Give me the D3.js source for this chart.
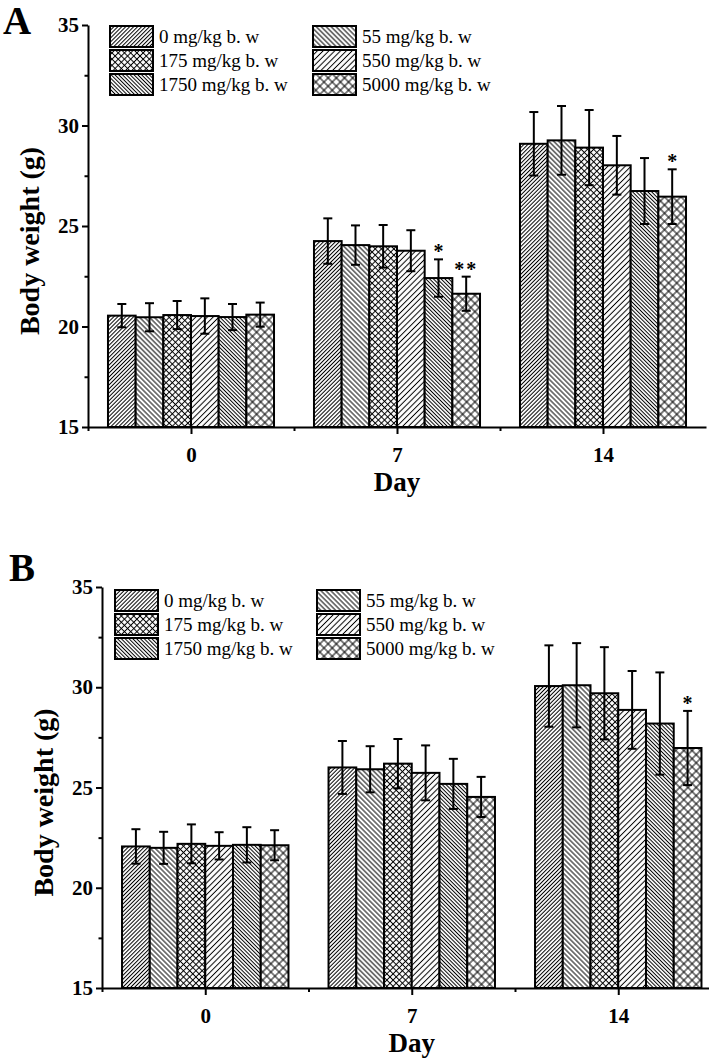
<!DOCTYPE html>
<html>
<head>
<meta charset="utf-8">
<script src="https://cdn.jsdelivr.net/npm/d3@7"></script>
<style>
  body { margin: 0; background: #fff; }
  text { font-family: "Liberation Serif", "Times New Roman", serif; fill: #000; }
</style>
</head>
<body>
<script>
// ---- data ----
const days = ["0", "7", "14"];
const doses = ["0 mg/kg b. w", "55 mg/kg b. w", "175 mg/kg b. w",
               "550 mg/kg b. w", "1750 mg/kg b. w", "5000 mg/kg b. w"];
const yTicks = [15, 20, 25, 30, 35];

// panel A, mean body weight per dose (g)
const meanA_day0 = [20.54, 20.46, 20.57, 20.52, 20.47, 20.59];
const meanA_day7 = [24.25, 24.05, 23.99, 23.77, 22.41, 21.63];
const meanA_day14 = [29.09, 29.26, 28.90, 28.02, 26.74, 26.46];
const errA_day0 = [0.58, 0.70, 0.70, 0.88, 0.65, 0.60];
const errA_day7 = [1.13, 0.98, 1.06, 1.02, 0.93, 0.85];
const errA_day14 = [1.58, 1.71, 1.87, 1.46, 1.64, 1.36];
const sigA_day0 = ["", "", "", "", "", ""];
const sigA_day7 = ["", "", "", "", "*", "**"];
const sigA_day14 = ["", "", "", "", "", "*"];

// panel B
const meanB_day0 = [22.06, 21.99, 22.19, 22.09, 22.14, 22.12];
const meanB_day7 = [26.00, 25.91, 26.19, 25.73, 25.18, 24.53];
const meanB_day14 = [30.06, 30.10, 29.70, 28.87, 28.19, 26.97];
const errB_day0 = [0.86, 0.80, 0.97, 0.68, 0.88, 0.75];
const errB_day7 = [1.32, 1.15, 1.23, 1.37, 1.25, 1.00];
const errB_day14 = [2.03, 2.10, 2.30, 1.94, 2.55, 1.85];
const sigB_day0 = ["", "", "", "", "", ""];
const sigB_day7 = ["", "", "", "", "", ""];
const sigB_day14 = ["", "", "", "", "", "*"];

// hatch styles, one per dose
const hatch = [
  { rot: 45, gap: 2.8, cross: false },
  { rot: -45, gap: 3.5, cross: false },
  { rot: 45, gap: 4.4, cross: true },
  { rot: 45, gap: 4.1, cross: false },
  { rot: -45, gap: 2.7, cross: false },
  { rot: 45, gap: 5.8, cross: true }
];

const svg = d3.select("body").append("svg")
  .attr("width", 709)
  .attr("height", 1059);

const defs = svg.append("defs");
hatch.forEach((h, i) => {
  const p = defs.append("pattern")
    .attr("id", "hatch" + i)
    .attr("patternUnits", "userSpaceOnUse")
    .attr("width", h.gap)
    .attr("height", h.gap)
    .attr("patternTransform", `rotate(${h.rot})`);
  p.append("rect").attr("width", h.gap).attr("height", h.gap).attr("fill", "#fff");
  p.append("line")
    .attr("x1", h.gap / 2).attr("x2", h.gap / 2)
    .attr("y1", 0).attr("y2", h.gap)
    .attr("stroke", "#000").attr("stroke-width", 1);
  if (h.cross) {
    p.append("line")
      .attr("y1", h.gap / 2).attr("y2", h.gap / 2)
      .attr("x1", 0).attr("x2", h.gap)
      .attr("stroke", "#000").attr("stroke-width", 1);
  }
});

function drawPanel(opt) {
  const g = svg.append("g");
  const x = d3.scaleLinear().domain([-0.5, 2.5]).range([opt.left, opt.right]);
  const y = d3.scaleLinear().domain([15, 35]).range([opt.bottom, opt.top]);
  const step = x(1) - x(0);
  const inner = d3.scaleBand().domain(doses).range([-step * 0.403, step * 0.403]);

  // bars
  opt.means.forEach((vals, di) => {
    const grp = g.append("g").attr("transform", `translate(${x(di)},0)`);
    grp.selectAll("rect")
      .data(vals)
      .join("rect")
      .attr("x", (d, i) => inner(doses[i]))
      .attr("y", d => y(d))
      .attr("width", inner.bandwidth())
      .attr("height", d => y(15) - y(d))
      .attr("fill", (d, i) => `url(#hatch${i})`)
      .attr("stroke", "#000")
      .attr("stroke-width", 2);

    // error bars
    vals.forEach((d, i) => {
      const cx = inner(doses[i]) + inner.bandwidth() / 2;
      const e = opt.errs[di][i];
      grp.append("line")
        .attr("x1", cx).attr("x2", cx)
        .attr("y1", y(d - e)).attr("y2", y(d + e))
        .attr("stroke", "#000").attr("stroke-width", 2);
      [d + e, d - e].forEach(v => {
        grp.append("line")
          .attr("x1", cx - 4.5).attr("x2", cx + 4.5)
          .attr("y1", y(v)).attr("y2", y(v))
          .attr("stroke", "#000").attr("stroke-width", 2);
      });
      const s = opt.sig[di][i];
      if (s) {
        grp.append("text")
          .attr("x", cx)
          .attr("y", y(d + e) - 1)
          .attr("text-anchor", "middle")
          .attr("font-size", 20)
          .attr("font-weight", "bold")
          .attr("letter-spacing", s.length > 1 ? 2 : 0)
          .text(s);
      }
    });
  });

  // y axis
  g.append("g")
    .attr("transform", `translate(${opt.left},0)`)
    .call(d3.axisLeft(y).tickValues(yTicks).tickSize(6).tickSizeOuter(0).tickPadding(3));
  g.append("g")
    .attr("transform", `translate(${opt.left},0)`)
    .call(d3.axisLeft(y).tickValues([17.5, 22.5, 27.5, 32.5]).tickSize(3.5).tickFormat(""))
    .call(a => a.select(".domain").remove());

  // x axis
  g.append("g")
    .attr("transform", `translate(0,${opt.bottom})`)
    .call(d3.axisBottom(x).tickValues([0, 1, 2]).tickFormat(i => days[i])
      .tickSize(7).tickSizeOuter(0).tickPadding(13));
  g.append("g")
    .attr("transform", `translate(0,${opt.bottom})`)
    .call(d3.axisBottom(x).tickValues([-0.5, 0.5, 1.5]).tickSize(4).tickFormat(""))
    .call(a => a.select(".domain").remove());

  g.selectAll(".domain, .tick line").attr("stroke", "#000").attr("stroke-width", 2);
  g.selectAll(".tick text")
    .attr("font-family", '"Liberation Serif", serif')
    .attr("font-size", 21)
    .attr("font-weight", "bold")
    .attr("fill", "#000");

  // axis titles
  g.append("text")
    .attr("transform", `translate(${opt.yTitleX},${(opt.top + opt.bottom) / 2 + 15}) rotate(-90)`)
    .attr("text-anchor", "middle")
    .attr("dominant-baseline", "central")
    .attr("font-size", 28)
    .attr("font-weight", "bold")
    .text("Body weight (g)");
  g.append("text")
    .attr("x", (opt.left + opt.right) / 2)
    .attr("y", opt.bottom + 64)
    .attr("text-anchor", "middle")
    .attr("font-size", 27)
    .attr("font-weight", "bold")
    .text("Day");

  // panel letter
  g.append("text")
    .attr("x", opt.letterX)
    .attr("y", opt.letterY)
    .attr("font-size", 39)
    .attr("font-weight", "bold")
    .text(opt.letter);

  // legend
  const lg = g.append("g");
  doses.forEach((name, i) => {
    const col = i % 2, row = Math.floor(i / 2);
    const lx = col === 0 ? opt.legX : opt.legX2;
    const ly = opt.legY + row * 24;
    lg.append("rect")
      .attr("x", lx).attr("y", ly)
      .attr("width", 43).attr("height", 21)
      .attr("fill", `url(#hatch${i})`)
      .attr("stroke", "#000").attr("stroke-width", 2);
    lg.append("text")
      .attr("x", lx + 49)
      .attr("y", ly + 17)
      .attr("font-size", 19)
      .text(name);
  });
}

drawPanel({
  letter: "A", letterX: 3, letterY: 34,
  left: 88, right: 706, top: 25, bottom: 427,
  yTitleX: 29,
  legX: 110, legX2: 313, legY: 26,
  means: [meanA_day0, meanA_day7, meanA_day14],
  errs: [errA_day0, errA_day7, errA_day14],
  sig: [sigA_day0, sigA_day7, sigA_day14]
});

drawPanel({
  letter: "B", letterX: 9, letterY: 581,
  left: 102, right: 721.5, top: 587, bottom: 988,
  yTitleX: 43,
  legX: 115, legX2: 317, legY: 590,
  means: [meanB_day0, meanB_day7, meanB_day14],
  errs: [errB_day0, errB_day7, errB_day14],
  sig: [sigB_day0, sigB_day7, sigB_day14]
});
</script>
</body>
</html>
